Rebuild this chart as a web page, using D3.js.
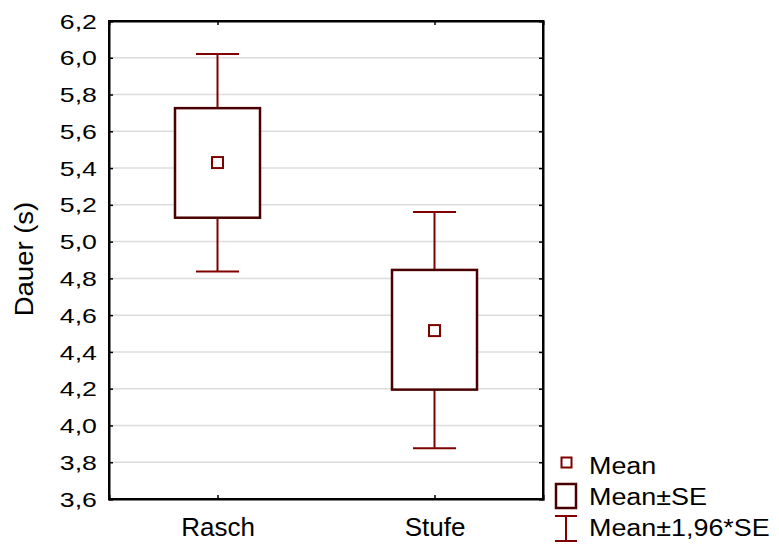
<!DOCTYPE html>
<html>
<head>
<meta charset="utf-8">
<script src="https://d3js.org/d3.v7.min.js"></script>
<style>
  body { margin: 0; background: #fff; }
  svg text { font-family: "Liberation Sans", Arial, sans-serif; fill: #000; }
</style>
</head>
<body>
<div id="chart"></div>
<script>
// data
var groups = ["Rasch", "Stufe"];
var means = [5.43, 4.516];
var seLow = [5.13, 4.195];
var seHigh = [5.726, 4.846];
var ciLow = [4.837, 3.876];
var ciHigh = [6.021, 5.161];
var yTicks = [3.6, 3.8, 4.0, 4.2, 4.4, 4.6, 4.8, 5.0, 5.2, 5.4, 5.6, 5.8, 6.0, 6.2];
var legendLabels = ["Mean", "Mean\u00b1SE", "Mean\u00b11,96*SE"];

var width = 779, height = 544;
var pLeft = 109, pRight = 543, pTop = 21, pBottom = 499;
var boxColor = "#4a0000", whiskColor = "#800000";

var svg = d3.select("#chart").append("svg")
  .attr("width", width).attr("height", height);

var x = d3.scalePoint().domain(groups).range([pLeft, pRight]).padding(0.5);
var y = d3.scaleLinear().domain([3.6, 6.2]).range([pBottom, pTop]);
var fmt = function(d) { return d3.format(".1f")(d).replace(".", ","); };

// gridlines
svg.append("g").selectAll("line")
  .data(yTicks.slice(1, -1))
  .enter().append("line")
  .attr("x1", pLeft).attr("x2", pRight)
  .attr("y1", d => y(d)).attr("y2", d => y(d))
  .attr("stroke", "#dcdcdc").attr("stroke-width", 1.5);

// axes
var yAxis = svg.append("g")
  .attr("transform", "translate(" + pLeft + ",0)")
  .call(d3.axisLeft(y).tickValues(yTicks).tickSize(-4).tickFormat(fmt));
yAxis.selectAll("text")
  .attr("x", -9.5).attr("dy", "0.34em")
  .attr("transform", "scale(1.27,1)")
  .style("font-size", "21px");

svg.append("g")
  .attr("transform", "translate(" + pRight + ",0)")
  .call(d3.axisRight(y).tickValues(yTicks).tickSize(-4).tickFormat(""));

var xAxis = svg.append("g")
  .attr("transform", "translate(0," + pBottom + ")")
  .call(d3.axisBottom(x).tickSize(-4));
xAxis.selectAll("text")
  .attr("y", 37).attr("dy", 0)
  .style("font-size", "26px");

svg.append("g")
  .attr("transform", "translate(0," + pTop + ")")
  .call(d3.axisTop(x).tickSize(-4).tickFormat(""));

svg.selectAll(".domain").attr("stroke", "#000").attr("stroke-width", 2);
svg.selectAll(".tick line").attr("stroke", "#000").attr("stroke-width", 1.5);

// frame
svg.append("rect")
  .attr("x", pLeft).attr("y", pTop)
  .attr("width", pRight - pLeft).attr("height", pBottom - pTop)
  .attr("fill", "none").attr("stroke", "#000").attr("stroke-width", 2);

// whiskers
var capW = 43, boxW = 85;
var g = svg.append("g").selectAll("g")
  .data(groups).enter().append("g");

g.append("line")
  .attr("x1", d => x(d)).attr("x2", d => x(d))
  .attr("y1", (d, i) => y(ciHigh[i])).attr("y2", (d, i) => y(seHigh[i]))
  .attr("stroke", whiskColor).attr("stroke-width", 2);
g.append("line")
  .attr("x1", d => x(d)).attr("x2", d => x(d))
  .attr("y1", (d, i) => y(seLow[i])).attr("y2", (d, i) => y(ciLow[i]))
  .attr("stroke", whiskColor).attr("stroke-width", 2);
g.append("line")
  .attr("x1", d => x(d) - capW / 2).attr("x2", d => x(d) + capW / 2)
  .attr("y1", (d, i) => y(ciHigh[i])).attr("y2", (d, i) => y(ciHigh[i]))
  .attr("stroke", whiskColor).attr("stroke-width", 2);
g.append("line")
  .attr("x1", d => x(d) - capW / 2).attr("x2", d => x(d) + capW / 2)
  .attr("y1", (d, i) => y(ciLow[i])).attr("y2", (d, i) => y(ciLow[i]))
  .attr("stroke", whiskColor).attr("stroke-width", 2);

// boxes
g.append("rect")
  .attr("x", d => x(d) - boxW / 2)
  .attr("y", (d, i) => y(seHigh[i]))
  .attr("width", boxW)
  .attr("height", (d, i) => y(seLow[i]) - y(seHigh[i]))
  .attr("fill", "#fff").attr("stroke", boxColor).attr("stroke-width", 2.5);

// mean markers
g.append("rect")
  .attr("x", d => x(d) - 5.5)
  .attr("y", (d, i) => y(means[i]) - 5.5)
  .attr("width", 11).attr("height", 11)
  .attr("fill", "#fff").attr("stroke", whiskColor).attr("stroke-width", 2);

// y label
svg.append("text")
  .attr("transform", "translate(33,259) rotate(-90) scale(1.1,1)")
  .attr("text-anchor", "middle")
  .style("font-size", "25px")
  .text("Dauer (s)");

// legend
var legend = svg.append("g");
legend.append("rect")
  .attr("x", 561.5).attr("y", 457.5).attr("width", 10).attr("height", 10)
  .attr("fill", "#fff").attr("stroke", whiskColor).attr("stroke-width", 2);
legend.append("rect")
  .attr("x", 556).attr("y", 484).attr("width", 20).attr("height", 24)
  .attr("fill", "#fff").attr("stroke", boxColor).attr("stroke-width", 2.5);
legend.append("line")
  .attr("x1", 566).attr("x2", 566).attr("y1", 516).attr("y2", 541)
  .attr("stroke", whiskColor).attr("stroke-width", 2);
legend.append("line")
  .attr("x1", 555).attr("x2", 577).attr("y1", 516).attr("y2", 516)
  .attr("stroke", whiskColor).attr("stroke-width", 2);
legend.append("line")
  .attr("x1", 555).attr("x2", 577).attr("y1", 541).attr("y2", 541)
  .attr("stroke", whiskColor).attr("stroke-width", 2);

legend.selectAll("text.lg")
  .data(legendLabels).enter().append("text")
  .attr("class", "lg")
  .attr("transform", (d, i) => "translate(589," + (474 + i * 31) + ") scale(1.17,1)")
  .style("font-size", "23px")
  .text(d => d);
</script>
</body>
</html>
